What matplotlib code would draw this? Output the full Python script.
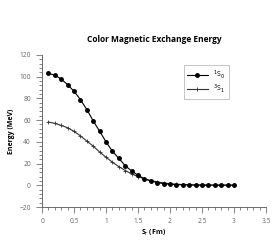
import matplotlib
matplotlib.use("Agg")
import matplotlib.pyplot as plt
from matplotlib.ticker import MultipleLocator
import numpy as np

# separation r (fm) and energies (MeV)
r = [0.1, 0.2, 0.3, 0.4, 0.5, 0.6, 0.7, 0.8, 0.9, 1.0,
     1.1, 1.2, 1.3, 1.4, 1.5, 1.6, 1.7, 1.8, 1.9, 2.0,
     2.1, 2.2, 2.3, 2.4, 2.5, 2.6, 2.7, 2.8, 2.9, 3.0]
e_1s0 = [103.0, 101.3, 97.7, 92.5, 86.5, 78.8, 69.6, 59.2, 49.7, 39.9,
         31.3, 24.8, 18.0, 13.2, 9.2, 6.0, 4.0, 2.5, 1.5, 0.9,
         0.6, 0.4, 0.3, 0.2, 0.15, 0.1, 0.1, 0.1, 0.1, 0.1]
e_3s1 = [58.2, 57.0, 55.1, 52.9, 49.6, 45.5, 40.6, 36.0, 30.6, 25.8,
         21.2, 17.2, 13.6, 10.5, 8.0, 5.9, 4.3, 3.1, 2.2, 1.5,
         1.0, 0.7, 0.5, 0.35, 0.25, 0.2, 0.15, 0.1, 0.1, 0.1]

plt.rcParams['font.family'] = ['Open Sans', 'DejaVu Sans']

fig = plt.figure(figsize=(2.77, 2.45), dpi=100)
ax = fig.add_axes([0.152, 0.155, 0.808, 0.621])

ax.plot(r, e_3s1, color="#333333", lw=0.8, marker="+", ms=3.5, mew=0.6, label="$^3$S$_1$")
ax.plot(r, e_1s0, color="black", lw=0.8, marker="o", ms=2.5, label="$^1$S$_0$")

ax.set_xlim(0, 3.5)
ax.set_ylim(-20, 120)
ax.xaxis.set_major_locator(MultipleLocator(0.5))
ax.xaxis.set_minor_locator(MultipleLocator(0.1))
ax.yaxis.set_major_locator(MultipleLocator(20))
ax.yaxis.set_minor_locator(MultipleLocator(4))
ax.set_xticks([0, 0.5, 1, 1.5, 2, 2.5, 3, 3.5])
ax.set_xticklabels(["0", "0.5", "1", "1.5", "2", "2.5", "3", "3.5"])

for s in ["top", "right"]:
    ax.spines[s].set_visible(False)
for s in ["left", "bottom"]:
    ax.spines[s].set_color("#555555")
    ax.spines[s].set_linewidth(0.6)
ax.tick_params(which="major", length=4, width=0.5, color="#555555",
               labelsize=4.8, labelcolor="#666666", pad=4)
ax.tick_params(which="minor", length=2.5, width=0.5, color="#555555")

ax.set_xlabel("S$_r$ (Fm)", fontsize=5, fontweight="bold", labelpad=2)
ax.set_ylabel("Energy (MeV)", fontsize=5, fontweight="bold", labelpad=3)
ax.set_title("Color Magnetic Exchange Energy", fontsize=6, fontweight="bold", pad=9)

h, l = ax.get_legend_handles_labels()
leg = ax.legend(h[::-1], l[::-1], loc="upper right", bbox_to_anchor=(0.835, 0.935),
                borderaxespad=0, fontsize=5, frameon=True, fancybox=False,
                handlelength=3.0, borderpad=0.5, labelspacing=0.3)
leg.get_frame().set_edgecolor("#999999")
leg.get_frame().set_linewidth(0.5)

plt.savefig("out.png", dpi=100)
